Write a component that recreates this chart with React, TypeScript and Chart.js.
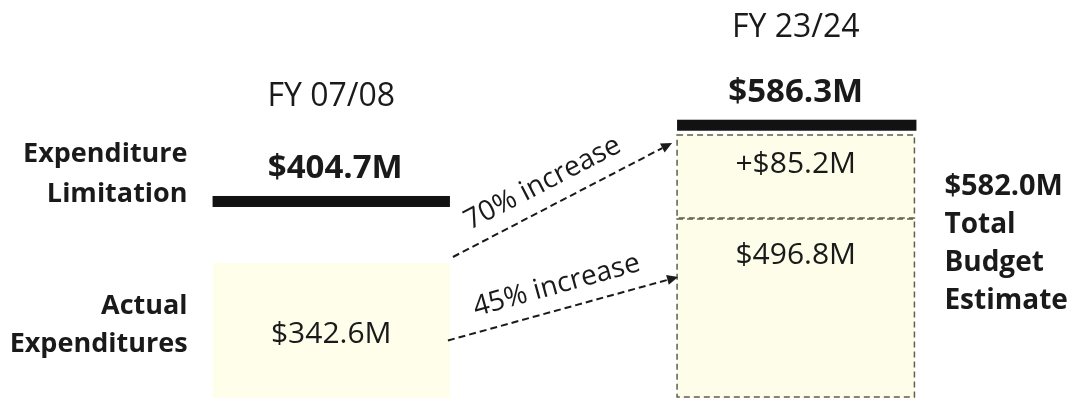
import React, { useEffect, useRef } from 'react';
import { Chart, registerables } from 'chart.js';

Chart.register(...registerables);

// ---- data ----
const categories = ['FY 07/08', 'FY 23/24'];
const actualExpenditures = [342.6, null];
const budgetBase = [null, 496.8];
const budgetIncrease = [null, 85.2];
const expenditureLimitation = [404.7, 586.3];
const increaseLabels = ['70% increase', '45% increase'];
const leftLabels = [['Expenditure', 'Limitation'], ['Actual', 'Expenditures']];
const rightLabels = ['Total', 'Budget', 'Estimate'];

const fmt = (v: number) => `$${v.toFixed(1)}M`;
const FONT = "'Open Sans', sans-serif";
const INK = '#1a1a1a';

const annotate = {
  id: 'annotate',
  afterDatasetsDraw(chart: any) {
    const ctx = chart.ctx as CanvasRenderingContext2D;
    const b07 = chart.getDatasetMeta(0).data[0].getProps(['x', 'y', 'base', 'width'], true);
    const b23a = chart.getDatasetMeta(1).data[1].getProps(['x', 'y', 'base', 'width'], true);
    const b23b = chart.getDatasetMeta(2).data[1].getProps(['x', 'y', 'base', 'width'], true);
    const yS = [chart.scales.y0, chart.scales.y1];
    const bars = [b07, b23b];

    // dashed borders on budget estimate segments
    ctx.save();
    ctx.setLineDash([6, 4]);
    ctx.lineWidth = 1.5;
    ctx.strokeStyle = '#5e5e4a';
    for (const el of [b23a, b23b]) {
      ctx.strokeRect(el.x - el.width / 2, el.y, el.width, el.base - el.y - 1);
    }
    ctx.restore();

    // expenditure limitation lines
    ctx.save();
    ctx.fillStyle = '#121212';
    const lineTops: number[] = [];
    expenditureLimitation.forEach((v, i) => {
      const y = yS[i].getPixelForValue(v);
      const el = bars[i];
      ctx.fillRect(el.x - el.width / 2, y - 11, el.width + (i === 1 ? 2 : 0), 11);
      lineTops.push(y - 11);
    });
    ctx.restore();

    ctx.save();
    ctx.fillStyle = INK;
    ctx.textBaseline = 'alphabetic';

    // category + limitation labels
    const catGap = [72, 65];
    expenditureLimitation.forEach((v, i) => {
      const el = bars[i];
      const vb = lineTops[i] - 18;
      ctx.textAlign = 'center';
      ctx.font = `bold 33px ${FONT}`;
      ctx.fillText(fmt(v), el.x + (i === 0 ? 4 : 0), vb);
      ctx.font = `32px ${FONT}`;
      ctx.fillText(categories[i], el.x, vb - catGap[i]);
    });

    // segment value labels
    ctx.font = `30px ${FONT}`;
    ctx.textAlign = 'center';
    const mid07 = (b07.y + b07.base) / 2;
    ctx.fillText(fmt(actualExpenditures[0] as number), b07.x, mid07 + 13);
    ctx.fillText(fmt(budgetBase[1] as number), b23a.x, b23a.y + 45);
    ctx.fillText('+' + fmt(budgetIncrease[1] as number), b23b.x, b23b.y + 38);

    // left labels
    ctx.font = `bold 27px ${FONT}`;
    ctx.textAlign = 'right';
    const lx = b07.x - b07.width / 2 - 25;
    const limY = lineTops[0] + 11;
    ctx.fillText(leftLabels[0][0], lx, limY - 45);
    ctx.fillText(leftLabels[0][1], lx, limY - 5);
    ctx.fillText(leftLabels[1][0], lx, mid07 - 16);
    ctx.fillText(leftLabels[1][1], lx, mid07 + 22);

    // right labels
    const total = (budgetBase[1] as number) + (budgetIncrease[1] as number);
    ctx.textAlign = 'left';
    const rx = b23b.x + b23b.width / 2 + 30;
    const ry = yS[1].getPixelForValue(total) + 60;
    ctx.font = `bold 29px ${FONT}`;
    ctx.fillText(fmt(total), rx, ry);
    ctx.font = `bold 28px ${FONT}`;
    rightLabels.forEach((t, i) => ctx.fillText(t, rx, ry + 38 * (i + 1)));

    // arrows
    const r07 = b07.x + b07.width / 2;
    const l23 = b23a.x - b23a.width / 2;
    const arrows = [
      { x1: r07 + 3, y1: b07.y - 6, x2: l23 - 5, y2: b23b.y + 8, t: 0.46 },
      { x1: r07 - 2, y1: mid07 + 10, x2: l23 + 1, y2: b23a.y + 58, t: 0.5 },
    ];
    arrows.forEach((a, i) => {
      const dx = a.x2 - a.x1, dy = a.y2 - a.y1;
      const len = Math.hypot(dx, dy);
      const ux = dx / len, uy = dy / len;
      const head = 11;
      ctx.save();
      ctx.strokeStyle = INK;
      ctx.lineWidth = 2;
      ctx.setLineDash([7, 4]);
      ctx.beginPath();
      ctx.moveTo(a.x1, a.y1);
      ctx.lineTo(a.x2 - ux * head, a.y2 - uy * head);
      ctx.stroke();
      ctx.setLineDash([]);
      ctx.fillStyle = INK;
      ctx.beginPath();
      ctx.moveTo(a.x2, a.y2);
      ctx.lineTo(a.x2 - ux * head - uy * 5, a.y2 - uy * head + ux * 5);
      ctx.lineTo(a.x2 - ux * head + uy * 5, a.y2 - uy * head - ux * 5);
      ctx.closePath();
      ctx.fill();
      // label
      const px = a.x1 + dx * a.t, py = a.y1 + dy * a.t;
      ctx.translate(px, py);
      ctx.rotate(Math.atan2(dy, dx));
      ctx.font = `28px ${FONT}`;
      ctx.textAlign = 'center';
      ctx.fillText(increaseLabels[i], 0, -16);
      ctx.restore();
    });
    ctx.restore();
  },
};

export default function App() {
  const ref = useRef<HTMLCanvasElement>(null);
  useEffect(() => {
    if (!ref.current) return;
    const chart = new Chart(ref.current, {
      type: 'bar',
      data: {
        labels: categories,
        datasets: [
          {
            label: 'Actual Expenditures',
            data: actualExpenditures,
            yAxisID: 'y0',
            backgroundColor: '#FEFEEB',
            borderWidth: 0,
            base: 192.9,
            grouped: false,
          } as any,
          {
            label: 'Budget base',
            data: budgetBase,
            yAxisID: 'y1',
            stack: 'b',
            backgroundColor: '#FDFDEA',
            borderWidth: 0,
            base: 315.2,
            grouped: false,
          } as any,
          {
            label: 'Budget increase',
            data: budgetIncrease,
            yAxisID: 'y1',
            stack: 'b',
            backgroundColor: '#FDFDEA',
            borderWidth: 0,
            grouped: false,
          } as any,
        ],
      },
      options: {
        responsive: false,
        animation: false,
        devicePixelRatio: 1,
        layout: { padding: { left: 99, right: 44, top: 0, bottom: 3 } },
        datasets: { bar: { barPercentage: 0.511, categoryPercentage: 1 } },
        plugins: { legend: { display: false }, tooltip: { enabled: false } },
        scales: {
          x: { display: false },
          y0: { type: 'linear', display: false, min: 192.9, max: 634.2 },
          y1: { type: 'linear', display: false, min: 315.2, max: 718.9, stacked: true },
        },
      } as any,
      plugins: [annotate],
    });
    return () => chart.destroy();
  }, []);
  return (
    <div style={{ position: 'fixed', left: 0, top: 0, width: 1072, height: 401, background: '#fff' }}>
      <canvas ref={ref} width={1072} height={401} />
    </div>
  );
}
